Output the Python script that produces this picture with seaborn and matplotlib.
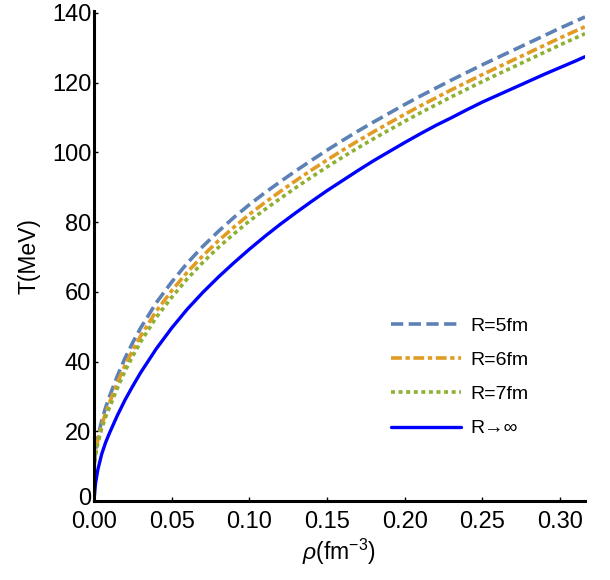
import numpy as np
import pandas as pd
import matplotlib
matplotlib.use("Agg")
import matplotlib.pyplot as plt
import matplotlib.transforms as mtransforms
import seaborn as sns

rho = [0, 0.001, 0.0025, 0.005, 0.0075, 0.01, 0.015, 0.02, 0.025, 0.03,
       0.04, 0.05, 0.06, 0.07, 0.08, 0.09, 0.10, 0.11, 0.12, 0.13, 0.14,
       0.15, 0.16, 0.17, 0.18, 0.19, 0.20, 0.21, 0.22, 0.23, 0.24, 0.25,
       0.26, 0.27, 0.28, 0.29, 0.30, 0.31, 0.316]
T_R5 = [10, 14.5, 18.5, 23, 26.8, 30, 35.8, 41, 45.5, 49.6,
        56.8, 62.8, 68.2, 73, 77.3, 81.3, 85, 88.4, 91.6, 94.7, 97.7,
        100.6, 103.4, 106.1, 108.7, 111.2, 113.7, 116.1, 118.4, 120.7, 122.9, 125.1,
        127.2, 129.3, 131.4, 133.5, 135.6, 137.6, 138.8]
T_R6 = [9.5, 13.7, 17.5, 21.8, 25.3, 28.2, 33.8, 38.9, 43.3, 47.3,
        54.4, 60.3, 65.6, 70.3, 74.6, 78.5, 82.2, 85.6, 88.8, 91.9, 94.9,
        97.8, 100.6, 103.3, 105.9, 108.4, 110.9, 113.3, 115.6, 117.9, 120.1, 122.3,
        124.4, 126.5, 128.6, 130.7, 132.8, 134.8, 136.0]
T_R7 = [9, 13, 16.6, 20.8, 24.1, 26.8, 32.3, 37.3, 41.6, 45.6,
        52.6, 58.4, 63.7, 68.4, 72.7, 76.6, 80.3, 83.6, 86.8, 89.9, 92.9,
        95.8, 98.6, 101.3, 103.9, 106.4, 108.9, 111.3, 113.6, 115.9, 118.1, 120.3,
        122.4, 124.5, 126.6, 128.7, 130.8, 132.8, 134.0]
T_inf = [0, 5, 9, 13.5, 16.8, 19.5, 24.5, 29, 33, 36.8,
         43.6, 49.6, 55, 59.8, 64.2, 68.3, 72.2, 75.9, 79.4, 82.7, 85.9,
         89, 91.9, 94.8, 97.6, 100.2, 102.8, 105.3, 107.7, 109.9, 112.2, 114.4,
         116.4, 118.4, 120.4, 122.4, 124.3, 126.2, 127.4]
labels = ["R=5fm", "R=6fm", "R=7fm", "R\u2192\u221e"]
x_ticks = [0.00, 0.05, 0.10, 0.15, 0.20, 0.25, 0.30]
y_ticks = [0, 20, 40, 60, 80, 100, 120, 140]

sns.set_theme(style="ticks")
plt.rcParams['font.family'] = ['Liberation Sans', 'DejaVu Sans']
plt.rcParams['mathtext.fontset'] = 'custom'
plt.rcParams['mathtext.rm'] = 'Liberation Sans'
plt.rcParams['mathtext.it'] = 'Liberation Sans:italic'
plt.rcParams['text.color'] = 'black'
plt.rcParams['axes.labelcolor'] = 'black'
plt.rcParams['xtick.color'] = 'black'
plt.rcParams['ytick.color'] = 'black'

fig = plt.figure(figsize=(6.1, 5.8), dpi=100)
ax = fig.add_axes([0.154, 0.136, 0.805, 0.845])

series = [T_R5, T_R6, T_R7, T_inf]
colors = ["#5E81B5", "#E19C24", "#8FB032", "#0000FF"]
styles = [(0, (3.4, 1.5)), (0, (3.0, 1.0, 1.2, 1.0)), (0, (1.1, 1.0)), "-"]
widths = [2.6, 2.6, 2.6, 2.4]

for vals, lab, c, ls, lw in zip(series, labels, colors, styles, widths):
    df = pd.DataFrame({"rho": rho, "T": vals})
    sns.lineplot(data=df, x="rho", y="T", ax=ax, color=c, linestyle=ls,
                 linewidth=lw, label=lab)

ax.set_xlim(0, 0.316)
ax.set_ylim(0, 140.5)
ax.set_xticks(x_ticks)
ax.set_xticklabels([f"{v:.2f}" for v in x_ticks])
ax.set_yticks(y_ticks)
ax.set_yticklabels([str(v) for v in y_ticks])
ax.tick_params(axis='both', direction='in', length=3, width=1, labelsize=17,
               pad=2)
ax.tick_params(axis='x', pad=7)

# nudge the "0" y tick label up slightly, as in the reference
zero_lab = ax.get_yticklabels()[0]
zero_lab.set_transform(zero_lab.get_transform() +
                       mtransforms.ScaledTranslation(0, 5 / 100, fig.dpi_scale_trans))

for s in ["top", "right"]:
    ax.spines[s].set_visible(False)
for s in ["left", "bottom"]:
    ax.spines[s].set_linewidth(2.2)
    ax.spines[s].set_color("black")

ax.set_xlabel(r"$\it{\rho}$(fm$^{-3}$)", fontsize=16.5, labelpad=3)
ax.set_ylabel("T(MeV)", fontsize=16.5, labelpad=8)

leg = ax.legend(loc="upper left", bbox_to_anchor=(0.604, 0.375), frameon=False,
                fontsize=14, handlelength=3.6, handletextpad=0.5,
                labelspacing=0.85, borderpad=0, borderaxespad=0)

fig.savefig("out.png", dpi=100)
